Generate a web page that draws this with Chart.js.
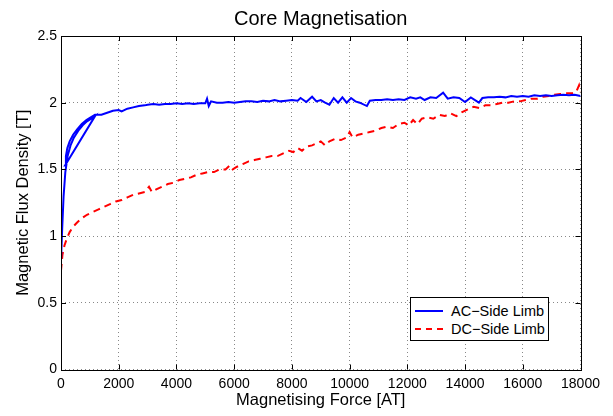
<!DOCTYPE html>
<html>
<head>
<meta charset="utf-8">
<script src="https://cdn.jsdelivr.net/npm/chart.js@4"></script>
<style>
    body { margin: 0; background: #fff; }
    #wrap { position: relative; width: 613px; height: 416px; }
    #legend {
        position: absolute; left: 410px; top: 297px; width: 137px; height: 42px;
        border: 1px solid #000; background: #fff;
        font: 14.5px "Liberation Sans", Arial, sans-serif; color: #000;
    }
    #legend .row { position: absolute; left: 0; height: 18px; line-height: 18px; white-space: nowrap; }
    #legend .swatch { position: absolute; left: 4px; top: 8px; width: 28px; height: 2px; }
    #legend .label { position: absolute; left: 40px; top: 0; }
</style>
</head>
<body>
<div id="wrap">
    <canvas id="chart" width="613" height="416"></canvas>
    <div id="legend"></div>
</div>
<script>
// Chart text
const chartTitle = "Core Magnetisation";
const xTitle = "Magnetising Force [AT]";
const yTitle = "Magnetic Flux Density [T]";
const seriesNames = ["AC\u2212Side Limb", "DC\u2212Side Limb"];

// Axis ticks
const xTicks = [0, 2000, 4000, 6000, 8000, 10000, 12000, 14000, 16000, 18000];
const yTicks = [0, 0.5, 1, 1.5, 2, 2.5];

// AC-side limb (includes the small loop at the start)
const acForce = [0, 40, 90, 150, 230, 330, 450, 600, 750, 900, 1050, 1180,
    140, 170, 220, 300, 420, 560, 720, 880, 1030, 1180,
    1400, 1600, 1800, 2000, 2100, 2300, 2500, 2700, 2900,
    3000, 3200, 3400, 3600, 3800, 4000, 4200, 4400, 4600, 4800, 5000, 5060, 5120, 5200, 5400, 5600, 5800,
    6000, 6200, 6400, 6600, 6800, 7000, 7200, 7400, 7600, 7800, 8000, 8200, 8300, 8500, 8700, 8850,
    9000, 9150, 9300, 9450, 9600, 9750, 9900, 10050, 10200, 10350, 10600, 10700, 10900, 11100, 11300,
    11500, 11700, 11900, 12100, 12300, 12450, 12600, 12800, 13000, 13240, 13400, 13600, 13800, 14000,
    14200, 14480, 14600, 14800, 15000, 15200, 15400, 15600, 15800, 16000, 16200, 16400, 16600, 16800,
    17000, 17200, 17400, 17600, 17800, 18000];
const acFlux = [0.82, 1.05, 1.3, 1.48, 1.6, 1.68, 1.74, 1.79, 1.83, 1.86, 1.88, 1.9,
    1.53, 1.6, 1.66, 1.71, 1.76, 1.8, 1.84, 1.87, 1.89, 1.91,
    1.91, 1.925, 1.94, 1.945, 1.935, 1.955, 1.965, 1.975, 1.98,
    1.985, 1.99, 1.985, 1.99, 1.99, 1.995, 1.99, 1.995, 1.99, 1.995, 1.995, 2.03, 1.975, 2.01, 2.0, 2.0, 2.005,
    2.0, 2.005, 2.01, 2.01, 2.005, 2.015, 2.01, 2.02, 2.01, 2.015, 2.02, 2.015, 2.035, 2.005, 2.045, 2.01,
    2.02, 2.0, 1.985, 2.035, 2.0, 2.04, 2.0, 2.035, 2.01, 2.0, 1.975, 2.015, 2.02, 2.02, 2.025,
    2.02, 2.025, 2.02, 2.04, 2.03, 2.04, 2.02, 2.04, 2.035, 2.075, 2.03, 2.04, 2.035, 2.005,
    2.04, 2.0, 2.035, 2.04, 2.04, 2.045, 2.04, 2.05, 2.045, 2.05, 2.045, 2.055, 2.05, 2.055,
    2.05, 2.055, 2.06, 2.055, 2.06, 2.05];

// DC-side limb
const dcForce = [0, 50, 120, 200, 300, 420, 550, 700, 900, 1100, 1300, 1500, 1700, 1900, 2100, 2300,
    2500, 2700, 2900, 3050, 3150, 3300, 3500, 3700, 3900, 4100, 4300, 4500, 4700, 4900, 5100, 5300,
    5500, 5700, 5850, 5950, 6100, 6300, 6500, 6700, 6900, 7100, 7300, 7500, 7700, 7900, 8050, 8200,
    8350, 8500, 8700, 8900, 9000, 9150, 9300, 9500, 9700, 9900, 10000, 10100, 10300, 10500, 10700,
    10900, 11100, 11300, 11500, 11700, 11900, 12050, 12200, 12350, 12500, 12700, 12900, 13100, 13300,
    13500, 13700, 13900, 14100, 14300, 14500, 14700, 14900, 15100, 15300, 15500, 15700, 15900, 16100,
    16300, 16500, 16700, 16900, 17100, 17300, 17500, 17700, 17850, 17950, 18000];
const dcFlux = [0.74, 0.86, 0.93, 0.98, 1.03, 1.07, 1.1, 1.13, 1.16, 1.18, 1.2, 1.22, 1.24, 1.26, 1.27, 1.29,
    1.31, 1.32, 1.33, 1.37, 1.33, 1.35, 1.37, 1.39, 1.4, 1.42, 1.43, 1.44, 1.46, 1.47, 1.48, 1.48,
    1.5, 1.5, 1.53, 1.5, 1.52, 1.54, 1.56, 1.57, 1.58, 1.59, 1.6, 1.6, 1.62, 1.64, 1.63, 1.66,
    1.64, 1.67, 1.68, 1.7, 1.71, 1.68, 1.71, 1.73, 1.72, 1.74, 1.78, 1.74, 1.76, 1.77, 1.78,
    1.79, 1.81, 1.82, 1.81, 1.84, 1.85, 1.83, 1.87, 1.84, 1.88, 1.89, 1.88, 1.91, 1.9,
    1.92, 1.9, 1.93, 1.95, 1.97, 1.96, 1.98, 1.98, 1.99, 2.0, 2.0, 2.01, 2.01, 2.02,
    2.03, 2.03, 2.045, 2.05, 2.06, 2.065, 2.07, 2.07, 2.08, 2.13, 2.08];

const fontFamily = '"Liberation Sans", Arial, Helvetica, sans-serif';

// pair up x and y arrays for a scatter line
function toPoints(xs, ys) {
    return xs.map((x, i) => ({ x: x, y: ys[i] }));
}

// draws the black box, the inside tick marks and the title (MATLAB look)
const matlabFrame = {
    id: 'matlabFrame',
    afterDraw(chart) {
        const { ctx, chartArea: a, scales } = chart;
        ctx.save();
        ctx.strokeStyle = '#000';
        ctx.lineWidth = 1;
        ctx.beginPath();
        scales.x.ticks.forEach(t => {
            const px = Math.round(scales.x.getPixelForValue(t.value)) + 0.5;
            ctx.moveTo(px, a.bottom); ctx.lineTo(px, a.bottom - 5);
            ctx.moveTo(px, a.top); ctx.lineTo(px, a.top + 5);
        });
        scales.y.ticks.forEach(t => {
            const py = Math.round(scales.y.getPixelForValue(t.value)) + 0.5;
            ctx.moveTo(a.left, py); ctx.lineTo(a.left + 5, py);
            ctx.moveTo(a.right, py); ctx.lineTo(a.right - 5, py);
        });
        ctx.stroke();
        ctx.strokeRect(Math.round(a.left) + 0.5, Math.round(a.top) + 0.5,
            Math.round(a.right - a.left), Math.round(a.bottom - a.top));

        ctx.fillStyle = '#000';
        ctx.font = '20px ' + fontFamily;
        ctx.textAlign = 'center';
        ctx.textBaseline = 'middle';
        ctx.fillText(chartTitle, (a.left + a.right) / 2, 19.5);
        ctx.restore();
    }
};

document.addEventListener("DOMContentLoaded", () => {
    createChart();
    createLegend();
});

function createChart()
{
    const canvas = document.getElementById("chart");

    new Chart(canvas, {
        type: 'scatter',
        data: {
            datasets: [{
                label: seriesNames[0],
                data: toPoints(acForce, acFlux),
                showLine: true,
                borderColor: '#0000ff',
                borderWidth: 2,
                pointRadius: 0,
                tension: 0
            }, {
                label: seriesNames[1],
                data: toPoints(dcForce, dcFlux),
                showLine: true,
                borderColor: '#ff0000',
                borderWidth: 2,
                borderDash: [7, 5],
                pointRadius: 0,
                tension: 0
            }]
        },
        options: {
            responsive: false,
            animation: false,
            layout: { padding: { top: 36, right: 32.5, left: 0, bottom: 0 } },
            plugins: {
                legend: { display: false },
                tooltip: { enabled: false }
            },
            scales: {
                x: {
                    type: 'linear',
                    min: xTicks[0],
                    max: xTicks[xTicks.length - 1],
                    afterBuildTicks: scale => { scale.ticks = xTicks.map(v => ({ value: v })); },
                    afterFit: scale => { scale.height = 46.5; },
                    grid: { color: '#888', drawTicks: false },
                    border: { display: false, dash: [1, 3] },
                    ticks: {
                        padding: 6,
                        color: '#000',
                        font: { family: fontFamily, size: 14 },
                        maxRotation: 0,
                        callback: v => String(v)
                    },
                    title: {
                        display: true,
                        text: xTitle,
                        color: '#000',
                        font: { family: fontFamily, size: 16.5 },
                        padding: { top: 0, bottom: 6 }
                    }
                },
                y: {
                    type: 'linear',
                    min: yTicks[0],
                    max: yTicks[yTicks.length - 1],
                    afterBuildTicks: scale => { scale.ticks = yTicks.map(v => ({ value: v })); },
                    afterFit: scale => { scale.width = 61; },
                    grid: { color: '#888', drawTicks: false },
                    border: { display: false, dash: [1, 3] },
                    ticks: {
                        padding: 4,
                        color: '#000',
                        font: { family: fontFamily, size: 14 },
                        callback: v => String(v)
                    },
                    title: {
                        display: true,
                        text: yTitle,
                        color: '#000',
                        font: { family: fontFamily, size: 16.5 },
                        padding: { top: 14, bottom: 0 }
                    }
                }
            }
        },
        plugins: [matlabFrame]
    });
}

// legend box inside the plot, bottom right
function createLegend()
{
    const legend = document.getElementById("legend");
    const swatches = [
        'background:#0000ff;',
        'background:repeating-linear-gradient(to right,#ff0000 0 6px,transparent 6px 11px);'
    ];
    const rowTops = [4, 22];

    seriesNames.forEach((name, i) => {
        const row = document.createElement("div");
        row.className = "row";
        row.style.top = rowTops[i] + "px";
        row.innerHTML = '<span class="swatch" style="' + swatches[i] + '"></span>' +
            '<span class="label">' + name + '</span>';
        legend.appendChild(row);
    });
}
</script>
</body>
</html>
